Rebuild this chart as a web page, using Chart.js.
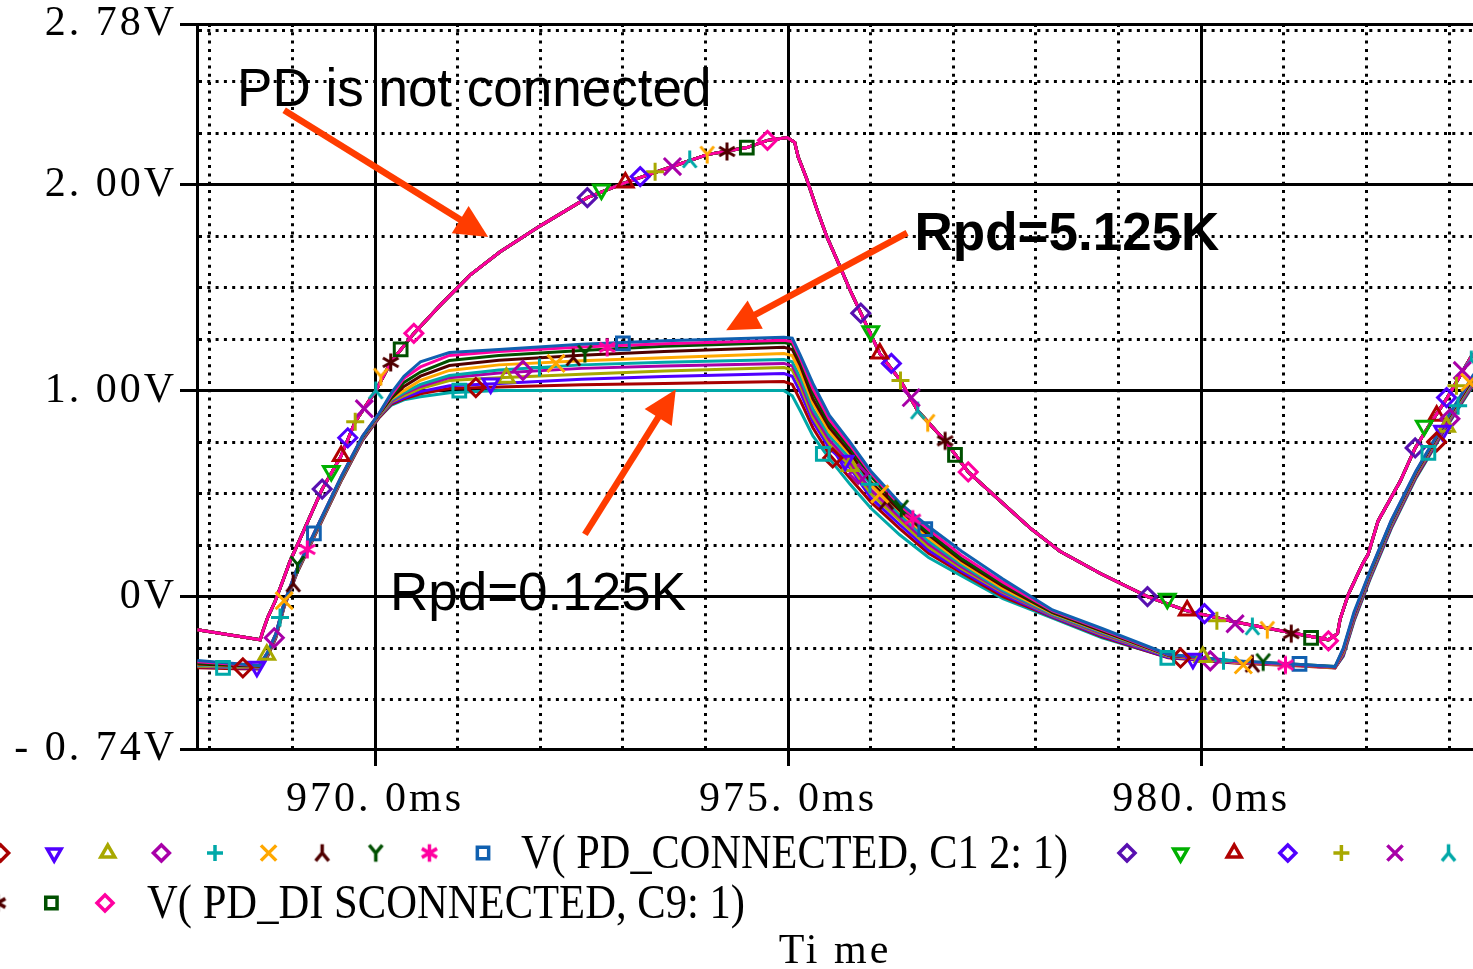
<!DOCTYPE html>
<html>
<head>
<meta charset="utf-8">
<script src="https://cdn.jsdelivr.net/npm/chart.js@4.4.1/dist/chart.umd.min.js"></script>
<style>
	html, body { margin: 0; padding: 0; background: #fff; overflow: hidden; }
</style>
</head>
<body>
<canvas id="chart" width="1473" height="969"></canvas>
<script>
// ---- data (time in ms, voltage in V) ----
const xGridValues = [968, 969, 970, 971, 972, 973, 974, 975, 976, 977, 978, 979, 980, 981, 982, 983];
const xLabelValues = [970, 975, 980];
const xLabelTexts = ["970. 0ms", "975. 0ms", "980. 0ms"];
const yGridValues = [-0.74, -0.5, -0.25, 0, 0.25, 0.5, 0.75, 1, 1.25, 1.5, 1.75, 2, 2.25, 2.5, 2.75, 2.78];
const yLabelValues = [-0.74, 0, 1, 2, 2.78];
const yLabelTexts = ["- 0. 74V", "0V", "1. 00V", "2. 00V", "2. 78V"];

// PD connected, Rpd = 0.125K (c0) ... 5.125K (c10)
const connX = [967.85, 968.3, 968.6, 968.7, 968.8, 968.9, 969.05, 969.3, 969.6, 969.85, 970.05,
	970.2, 970.35, 970.55, 970.9, 971.5, 972.5, 973.5, 974.95,
	975.05, 975.15, 975.3, 975.5, 975.75, 976.0, 976.35, 976.7, 977.1, 977.6,
	978.2, 978.8, 979.6, 980.4, 981.2,
	981.62, 981.72, 981.85, 982.05, 982.3, 982.6, 982.95, 983.3];
const conn0 = [-0.335, -0.345, -0.35, -0.29, -0.2, -0.05, 0.11, 0.32, 0.57, 0.76, 0.87,
	0.93, 0.955, 0.97, 0.99, 1.0, 1.0, 1.0, 1.0,
	0.975, 0.9, 0.78, 0.67, 0.545, 0.43, 0.3, 0.19, 0.1, -0.01,
	-0.105, -0.2, -0.295, -0.32, -0.335,
	-0.345, -0.29, -0.12, 0.09, 0.33, 0.575, 0.81, 1.03];
const conn1 = [-0.345, -0.35, -0.352, -0.29, -0.2, -0.05, 0.11, 0.32, 0.57, 0.76, 0.87,
	0.935, 0.96, 0.985, 1.01, 1.018, 1.028, 1.035, 1.044,
	1.03, 0.95, 0.82, 0.69, 0.575, 0.46, 0.33, 0.21, 0.115, 0.0,
	-0.1, -0.195, -0.297, -0.322, -0.337,
	-0.347, -0.285, -0.115, 0.095, 0.335, 0.58, 0.815, 1.035];
const conn2 = [-0.34, -0.345, -0.348, -0.285, -0.195, -0.045, 0.115, 0.325, 0.575, 0.765, 0.875,
	0.94, 0.965, 0.995, 1.024, 1.035, 1.055, 1.068, 1.083,
	1.07, 0.99, 0.85, 0.72, 0.625, 0.48, 0.35, 0.225, 0.125, 0.01,
	-0.097, -0.19, -0.295, -0.32, -0.335,
	-0.345, -0.28, -0.11, 0.1, 0.34, 0.585, 0.82, 1.04];
const conn3 = [-0.338, -0.343, -0.346, -0.283, -0.193, -0.043, 0.117, 0.327, 0.577, 0.767, 0.877,
	0.945, 0.975, 1.01, 1.049, 1.062, 1.08, 1.095, 1.112,
	1.1, 1.02, 0.87, 0.74, 0.634, 0.5, 0.37, 0.24, 0.135, 0.02,
	-0.093, -0.185, -0.29, -0.318, -0.333,
	-0.343, -0.275, -0.105, 0.105, 0.345, 0.59, 0.825, 1.045];
const conn4 = [-0.335, -0.34, -0.344, -0.28, -0.19, -0.04, 0.12, 0.33, 0.58, 0.77, 0.88,
	0.95, 0.985, 1.02, 1.063, 1.085, 1.108, 1.12, 1.132,
	1.12, 1.04, 0.89, 0.76, 0.65, 0.52, 0.385, 0.255, 0.145, 0.025,
	-0.09, -0.18, -0.29, -0.317, -0.333,
	-0.343, -0.27, -0.1, 0.11, 0.35, 0.595, 0.83, 1.05];
const conn5 = [-0.333, -0.338, -0.342, -0.278, -0.188, -0.038, 0.122, 0.332, 0.582, 0.772, 0.882,
	0.955, 0.99, 1.03, 1.073, 1.1, 1.125, 1.138, 1.151,
	1.14, 1.06, 0.91, 0.78, 0.67, 0.546, 0.4, 0.27, 0.155, 0.03,
	-0.086, -0.175, -0.288, -0.315, -0.332,
	-0.342, -0.265, -0.095, 0.115, 0.355, 0.6, 0.835, 1.055];
const conn6 = [-0.33, -0.336, -0.34, -0.276, -0.186, -0.036, 0.124, 0.334, 0.584, 0.774, 0.884,
	0.96, 1.0, 1.05, 1.098, 1.125, 1.145, 1.16, 1.18,
	1.17, 1.09, 0.94, 0.8, 0.69, 0.56, 0.415, 0.285, 0.165, 0.04,
	-0.082, -0.17, -0.287, -0.318, -0.335,
	-0.345, -0.265, -0.09, 0.12, 0.36, 0.6, 0.84, 1.06];
const conn7 = [-0.327, -0.334, -0.338, -0.274, -0.184, -0.034, 0.126, 0.336, 0.586, 0.776, 0.886,
	0.965, 1.02, 1.07, 1.122, 1.148, 1.172, 1.19, 1.21,
	1.2, 1.12, 0.96, 0.82, 0.7, 0.555, 0.42, 0.3, 0.175, 0.05,
	-0.078, -0.167, -0.285, -0.315, -0.333,
	-0.343, -0.26, -0.088, 0.122, 0.362, 0.602, 0.842, 1.065];
const conn8 = [-0.322, -0.331, -0.336, -0.272, -0.182, -0.032, 0.128, 0.338, 0.588, 0.778, 0.888,
	0.97, 1.04, 1.09, 1.146, 1.17, 1.195, 1.215, 1.234,
	1.225, 1.14, 0.99, 0.84, 0.72, 0.585, 0.43, 0.31, 0.185, 0.06,
	-0.074, -0.163, -0.284, -0.313, -0.33,
	-0.34, -0.258, -0.085, 0.125, 0.365, 0.605, 0.845, 1.07];
const conn9 = [-0.316, -0.328, -0.334, -0.27, -0.18, -0.03, 0.13, 0.34, 0.59, 0.78, 0.89,
	0.98, 1.06, 1.115, 1.171, 1.19, 1.212, 1.228, 1.244,
	1.238, 1.155, 1.01, 0.86, 0.735, 0.6, 0.445, 0.325, 0.2, 0.07,
	-0.07, -0.16, -0.283, -0.315, -0.332,
	-0.342, -0.255, -0.082, 0.128, 0.368, 0.608, 0.848, 1.075];
const conn10 = [-0.31, -0.325, -0.335, -0.27, -0.18, -0.03, 0.13, 0.34, 0.59, 0.78, 0.89,
	0.99, 1.07, 1.14, 1.185, 1.2, 1.225, 1.242, 1.259,
	1.255, 1.17, 1.035, 0.88, 0.75, 0.61, 0.455, 0.34, 0.22, 0.085,
	-0.065, -0.155, -0.28, -0.312, -0.33,
	-0.34, -0.25, -0.075, 0.13, 0.37, 0.61, 0.85, 1.08];
const connSeries = [conn0, conn1, conn2, conn3, conn4, conn5, conn6, conn7, conn8, conn9, conn10];

// PD disconnected: all traces lie on top of each other
const discX = [967.85, 968.61, 968.64, 968.7, 968.79, 968.89, 968.97, 969.09, 969.36, 969.59, 969.76,
	970.01, 970.19, 970.47, 970.79, 971.15, 971.51, 972.0, 972.57, 973.03, 973.6, 974.02, 974.5,
	974.75, 974.99, 975.08, 975.12, 975.22, 975.35, 975.47, 975.63, 975.75, 975.88, 976.11, 976.36,
	976.57, 976.9, 977.18, 977.57, 977.93, 978.29, 978.78, 979.35, 979.82, 980.4, 981.09, 981.54,
	981.65, 981.68, 981.78, 981.95, 982.02, 982.14, 982.41, 982.59, 982.81, 982.98, 983.29];
const discY = [-0.161, -0.21, -0.171, -0.102, -0.024, 0.083, 0.171, 0.278, 0.522, 0.683, 0.849,
	1.0, 1.137, 1.278, 1.415, 1.561, 1.673, 1.8, 1.937, 2.01, 2.088, 2.146, 2.18,
	2.215, 2.229, 2.205, 2.137, 2.034, 1.878, 1.746, 1.6, 1.488, 1.376, 1.18, 1.049,
	0.902, 0.756, 0.605, 0.463, 0.332, 0.22, 0.112, 0.0, -0.068, -0.122, -0.176, -0.21,
	-0.18, -0.112, 0.01, 0.156, 0.205, 0.366, 0.561, 0.722, 0.863, 0.966, 1.18];

// marker positions [ms, V] for each trace
const connMarkers = [
	[[968.16, -0.346], [971.02, 1.0], [975.42, 0.693], [979.59, -0.298], [982.75, 0.698]],
	[[968.4, -0.346], [971.22, 1.015], [975.54, 0.673], [979.75, -0.298], [982.85, 0.751]],
	[[968.57, -0.341], [971.4, 1.034], [975.69, 0.659], [979.9, -0.302], [982.92, 0.805]],
	[[968.69, -0.283], [971.59, 1.063], [975.75, 0.634], [980.02, -0.293], [982.97, 0.824]],
	[[968.78, -0.2], [971.79, 1.098], [975.85, 0.595], [980.11, -0.312], [983.01, 0.863]],
	[[968.85, -0.102], [971.99, 1.112], [975.99, 0.546], [980.27, -0.312], [983.11, 0.927]],
	[[968.9, -0.02], [972.19, 1.132], [976.11, 0.498], [980.51, -0.332], [983.25, 1.04]],
	[[969.01, 0.063], [972.4, 1.161], [976.19, 0.463], [980.62, -0.327]],
	[[969.06, 0.156], [972.54, 1.18], [976.37, 0.429], [980.75, -0.317]],
	[[969.18, 0.229], [972.81, 1.21], [976.51, 0.376], [981.02, -0.332]],
	[[969.26, 0.307], [973.0, 1.229], [976.66, 0.327], [981.19, -0.327]],
];
const discMarkers = [
	[[969.36, 0.522], [972.57, 1.937], [975.88, 1.376], [979.35, 0.0], [982.59, 0.722]],
	[[969.47, 0.61], [972.74, 1.976], [976.0, 1.288], [979.59, -0.01], [982.7, 0.829]],
	[[969.59, 0.683], [973.03, 2.01], [976.11, 1.18], [979.83, -0.068], [982.85, 0.878]],
	[[969.67, 0.771], [973.21, 2.039], [976.25, 1.132], [980.04, -0.083], [982.97, 0.966]],
	[[969.76, 0.849], [973.39, 2.063], [976.36, 1.049], [980.19, -0.117], [983.09, 1.024]],
	[[969.87, 0.912], [973.6, 2.088], [976.49, 0.966], [980.41, -0.132], [983.16, 1.098]],
	[[970.01, 1.0], [973.81, 2.122], [976.57, 0.902], [980.62, -0.146], [983.27, 1.15]],
	[[970.07, 1.068], [974.02, 2.146], [976.69, 0.844], [980.8, -0.161]],
	[[970.19, 1.137], [974.26, 2.161], [976.9, 0.756], [981.09, -0.18]],
	[[970.31, 1.2], [974.5, 2.18], [977.02, 0.688], [981.33, -0.2]],
	[[970.47, 1.278], [974.75, 2.215], [977.18, 0.605], [981.54, -0.215]],
];

const connLabel = "V( PD_CONNECTED, C1 2: 1)";
const discLabel = "V( PD_DI SCONNECTED, C9: 1)";

// annotation text and arrows, in axis units
const notes = [
	{ text: "PD is not connected", x: 968.33, y: 2.38, bold: false },
	{ text: "Rpd=5.125K", x: 976.53, y: 1.683, bold: true },
	{ text: "Rpd=0.125K", x: 970.18, y: -0.063, bold: false },
];
const arrows = [
	[968.9, 2.361, 971.37, 1.746],
	[976.44, 1.766, 974.25, 1.293],
	[972.54, 0.302, 973.64, 1.005],
];

// ---- styles ----
const connColors = ["#00a8a8", "#a80000", "#5000ff", "#a8a800", "#a800a8", "#00a8a8", "#ffa800", "#500000", "#005000", "#ff00a0", "#1060b0"];
const connShapes = ["rect", "rectRot", "triDown", "triangle", "rectRot", "cross", "crossRot", "yDown", "yUp", "aster", "rect"];
const discColors = ["#5810b0", "#00b000", "#b00000", "#5000ff", "#a8a800", "#a800a8", "#00a8a8", "#ffa800", "#500000", "#005000", "#ff00a0"];
const discShapes = ["rectRot", "triDown", "triangle", "rectRot", "cross", "crossRot", "yDown", "yUp", "aster", "rect", "rectRot"];
const arrowColor = "#ff3c00";

function glyph(kind, color, size, lw) {
	const c = document.createElement("canvas");
	c.width = size;
	c.height = size;
	const g = c.getContext("2d");
	g.strokeStyle = color;
	g.lineWidth = lw;
	const m = size / 2;
	const r = size / 2 - lw / 2;
	g.beginPath();
	if (kind === "y") {
		g.moveTo(m - r * 0.75, m - r * 0.9);
		g.lineTo(m, m);
		g.lineTo(m + r * 0.75, m - r * 0.9);
		g.moveTo(m, m);
		g.lineTo(m, m + r);
	} else {
		g.moveTo(m, m - r);
		g.lineTo(m, m + r);
		[30, 150].forEach((a) => {
			const t = (a * Math.PI) / 180;
			g.moveTo(m - r * Math.cos(t), m - r * Math.sin(t));
			g.lineTo(m + r * Math.cos(t), m + r * Math.sin(t));
		});
	}
	g.stroke();
	return c;
}

function markerStyle(shape, color, size, lw) {
	if (shape === "triDown") return { style: "triangle", rotation: 180, scale: 1 };
	if (shape === "yUp") return { style: glyph("y", color, size, lw), rotation: 0, scale: 1 };
	if (shape === "yDown") return { style: glyph("y", color, size, lw), rotation: 180, scale: 1 };
	if (shape === "aster") return { style: glyph("a", color, size, lw), rotation: 0, scale: 1 };
	if (shape === "crossRot") return { style: shape, rotation: 0, scale: 1.35 };
	return { style: shape, rotation: 0, scale: 1 };
}

const isMajorX = (v) => xLabelValues.some((m) => Math.abs(m - v) < 1e-6);
const isMajorY = (v) => yLabelValues.some((m) => Math.abs(m - v) < 1e-6);

function markerSet(pts, shape, color) {
	const ms = markerStyle(shape, color, 21, 3);
	return {
		data: pts.map((p) => ({ x: p[0], y: p[1] })),
		showLine: false,
		pointStyle: ms.style,
		pointRotation: ms.rotation,
		pointRadius: 9 * ms.scale,
		pointBorderWidth: 3,
		pointBorderColor: color,
		pointBackgroundColor: "rgba(0,0,0,0)",
		order: 0,
	};
}

const datasets = [];
connMarkers.forEach((pts, i) => datasets.push(markerSet(pts, connShapes[i], connColors[i])));
discMarkers.forEach((pts, i) => datasets.push(markerSet(pts, discShapes[i], discColors[i])));
// disconnected traces share one curve; pink ends up on top
for (let i = discColors.length - 1; i >= 0; i--) {
	datasets.push({
		data: discX.map((x, k) => ({ x: x, y: discY[k] })),
		borderColor: discColors[i],
		borderWidth: 3,
		pointRadius: 0,
		order: 1,
	});
}
for (let i = connSeries.length - 1; i >= 0; i--) {
	datasets.push({
		data: connX.map((x, k) => ({ x: x, y: connSeries[i][k] })),
		borderColor: connColors[i],
		borderWidth: 3,
		pointRadius: 0,
		order: 2,
	});
}

function drawArrow(ctx, x1, y1, x2, y2) {
	const a = Math.atan2(y2 - y1, x2 - x1);
	const len = 33;
	const half = 16;
	const bx = x2 - Math.cos(a) * len;
	const by = y2 - Math.sin(a) * len;
	ctx.strokeStyle = arrowColor;
	ctx.fillStyle = arrowColor;
	ctx.lineWidth = 6.5;
	ctx.beginPath();
	ctx.moveTo(x1, y1);
	ctx.lineTo(bx + Math.cos(a) * 2, by + Math.sin(a) * 2);
	ctx.stroke();
	ctx.beginPath();
	ctx.moveTo(x2, y2);
	ctx.lineTo(bx - Math.sin(a) * half, by + Math.cos(a) * half);
	ctx.lineTo(bx + Math.sin(a) * half, by - Math.cos(a) * half);
	ctx.closePath();
	ctx.fill();
}

function legendMarker(ctx, shape, color, x, y) {
	const ms = markerStyle(shape, color, 21, 3.5);
	ctx.save();
	ctx.strokeStyle = color;
	ctx.fillStyle = "rgba(0,0,0,0)";
	ctx.lineWidth = 3.5;
	Chart.helpers.drawPoint(ctx, { pointStyle: ms.style, rotation: ms.rotation, radius: 8 * ms.scale, borderWidth: 3.5 }, x, y);
	ctx.restore();
}

const overlay = {
	id: "overlay",
	beforeDraw(chart) {
		chart.ctx.letterSpacing = "3px";
	},
	afterDatasetsDraw(chart) {
		const ctx = chart.ctx;
		const xs = chart.scales.x;
		const ys = chart.scales.y;
		ctx.save();
		ctx.letterSpacing = "0px";
		notes.forEach((n) => {
			ctx.font = (n.bold ? "bold " : "") + "53px 'Liberation Sans', Arial, sans-serif";
			ctx.fillStyle = "#000";
			ctx.textAlign = "left";
			ctx.textBaseline = "alphabetic";
			ctx.fillText(n.text, xs.getPixelForValue(n.x), ys.getPixelForValue(n.y));
		});
		arrows.forEach((a) => {
			drawArrow(ctx, xs.getPixelForValue(a[0]), ys.getPixelForValue(a[1]), xs.getPixelForValue(a[2]), ys.getPixelForValue(a[3]));
		});
		ctx.restore();
	},
	afterDraw(chart) {
		const ctx = chart.ctx;
		ctx.save();
		ctx.letterSpacing = "0px";
		const step = 53.6;
		// row 1: connected markers, label, then disconnected markers running off the right edge
		connShapes.forEach((s, i) => legendMarker(ctx, s, connColors[i], -53 + i * step, 853));
		discShapes.forEach((s, i) => legendMarker(ctx, s, discColors[i], 1127 + i * step, 853));
		// row 2: the wrapped tail of the disconnected markers
		discShapes.forEach((s, i) => legendMarker(ctx, s, discColors[i], 105 - (10 - i) * step, 903));
		ctx.font = "48px 'Liberation Serif', 'Times New Roman', serif";
		ctx.fillStyle = "#000";
		ctx.textAlign = "left";
		ctx.textBaseline = "alphabetic";
		ctx.fillText(connLabel, 521, 868, 547);
		ctx.fillText(discLabel, 147, 918, 598);
		ctx.restore();
	},
};

const serif = "'Liberation Serif', 'Times New Roman', serif";

new Chart(document.getElementById("chart").getContext("2d"), {
	type: "line",
	data: { datasets: datasets },
	options: {
		responsive: false,
		devicePixelRatio: 1,
		animation: false,
		events: [],
		layout: { autoPadding: false, padding: { top: 24, right: 0, bottom: 0, left: 0 } },
		plugins: { legend: { display: false }, tooltip: { enabled: false } },
		elements: { line: { tension: 0 } },
		scales: {
			x: {
				type: "linear",
				min: 967.845,
				max: 983.29,
				afterBuildTicks: (s) => {
					s.ticks = xGridValues.map((v) => ({ value: v }));
				},
				afterFit: (s) => {
					s.height = 220;
					s.paddingLeft = 0;
					s.paddingRight = 0;
				},
				ticks: {
					autoSkip: false,
					maxRotation: 0,
					padding: 0,
					color: "#000",
					font: { family: serif, size: 42, lineHeight: 1.62 },
					callback: (v) => {
						const k = xLabelValues.findIndex((m) => Math.abs(m - v) < 1e-6);
						return k >= 0 ? xLabelTexts[k] : "";
					},
				},
				grid: {
					color: "#000",
					lineWidth: 3,
					tickLength: 17,
					tickWidth: 3,
					tickColor: (c) => (c.tick && isMajorX(c.tick.value) ? "#000" : "rgba(0,0,0,0)"),
				},
				border: {
					display: true,
					color: "#000",
					width: 3,
					dash: (c) => (c.tick && !isMajorX(c.tick.value) ? [3, 5.3] : []),
				},
				title: {
					display: true,
					text: "Ti me",
					color: "#000",
					font: { family: serif, size: 42, lineHeight: 0.8 },
					padding: { top: 0, bottom: 0 },
				},
			},
			y: {
				type: "linear",
				min: -0.74,
				max: 2.78,
				afterBuildTicks: (s) => {
					s.ticks = yGridValues.map((v) => ({ value: v }));
				},
				afterFit: (s) => {
					s.width = 197;
					s.paddingTop = 0;
					s.paddingBottom = 0;
				},
				ticks: {
					autoSkip: false,
					padding: 3,
					color: "#000",
					font: { family: serif, size: 42, lineHeight: 1 },
					callback: (v) => {
						const k = yLabelValues.findIndex((m) => Math.abs(m - v) < 1e-6);
						return k >= 0 ? yLabelTexts[k] : "";
					},
				},
				grid: {
					color: "#000",
					lineWidth: 3,
					tickLength: 17,
					tickWidth: 3,
					tickColor: (c) => (c.tick && isMajorY(c.tick.value) ? "#000" : "rgba(0,0,0,0)"),
				},
				border: {
					display: true,
					color: "#000",
					width: 3,
					dash: (c) => (c.tick && !isMajorY(c.tick.value) ? [3, 5.3] : []),
				},
			},
		},
	},
	plugins: [overlay],
});
</script>
</body>
</html>
